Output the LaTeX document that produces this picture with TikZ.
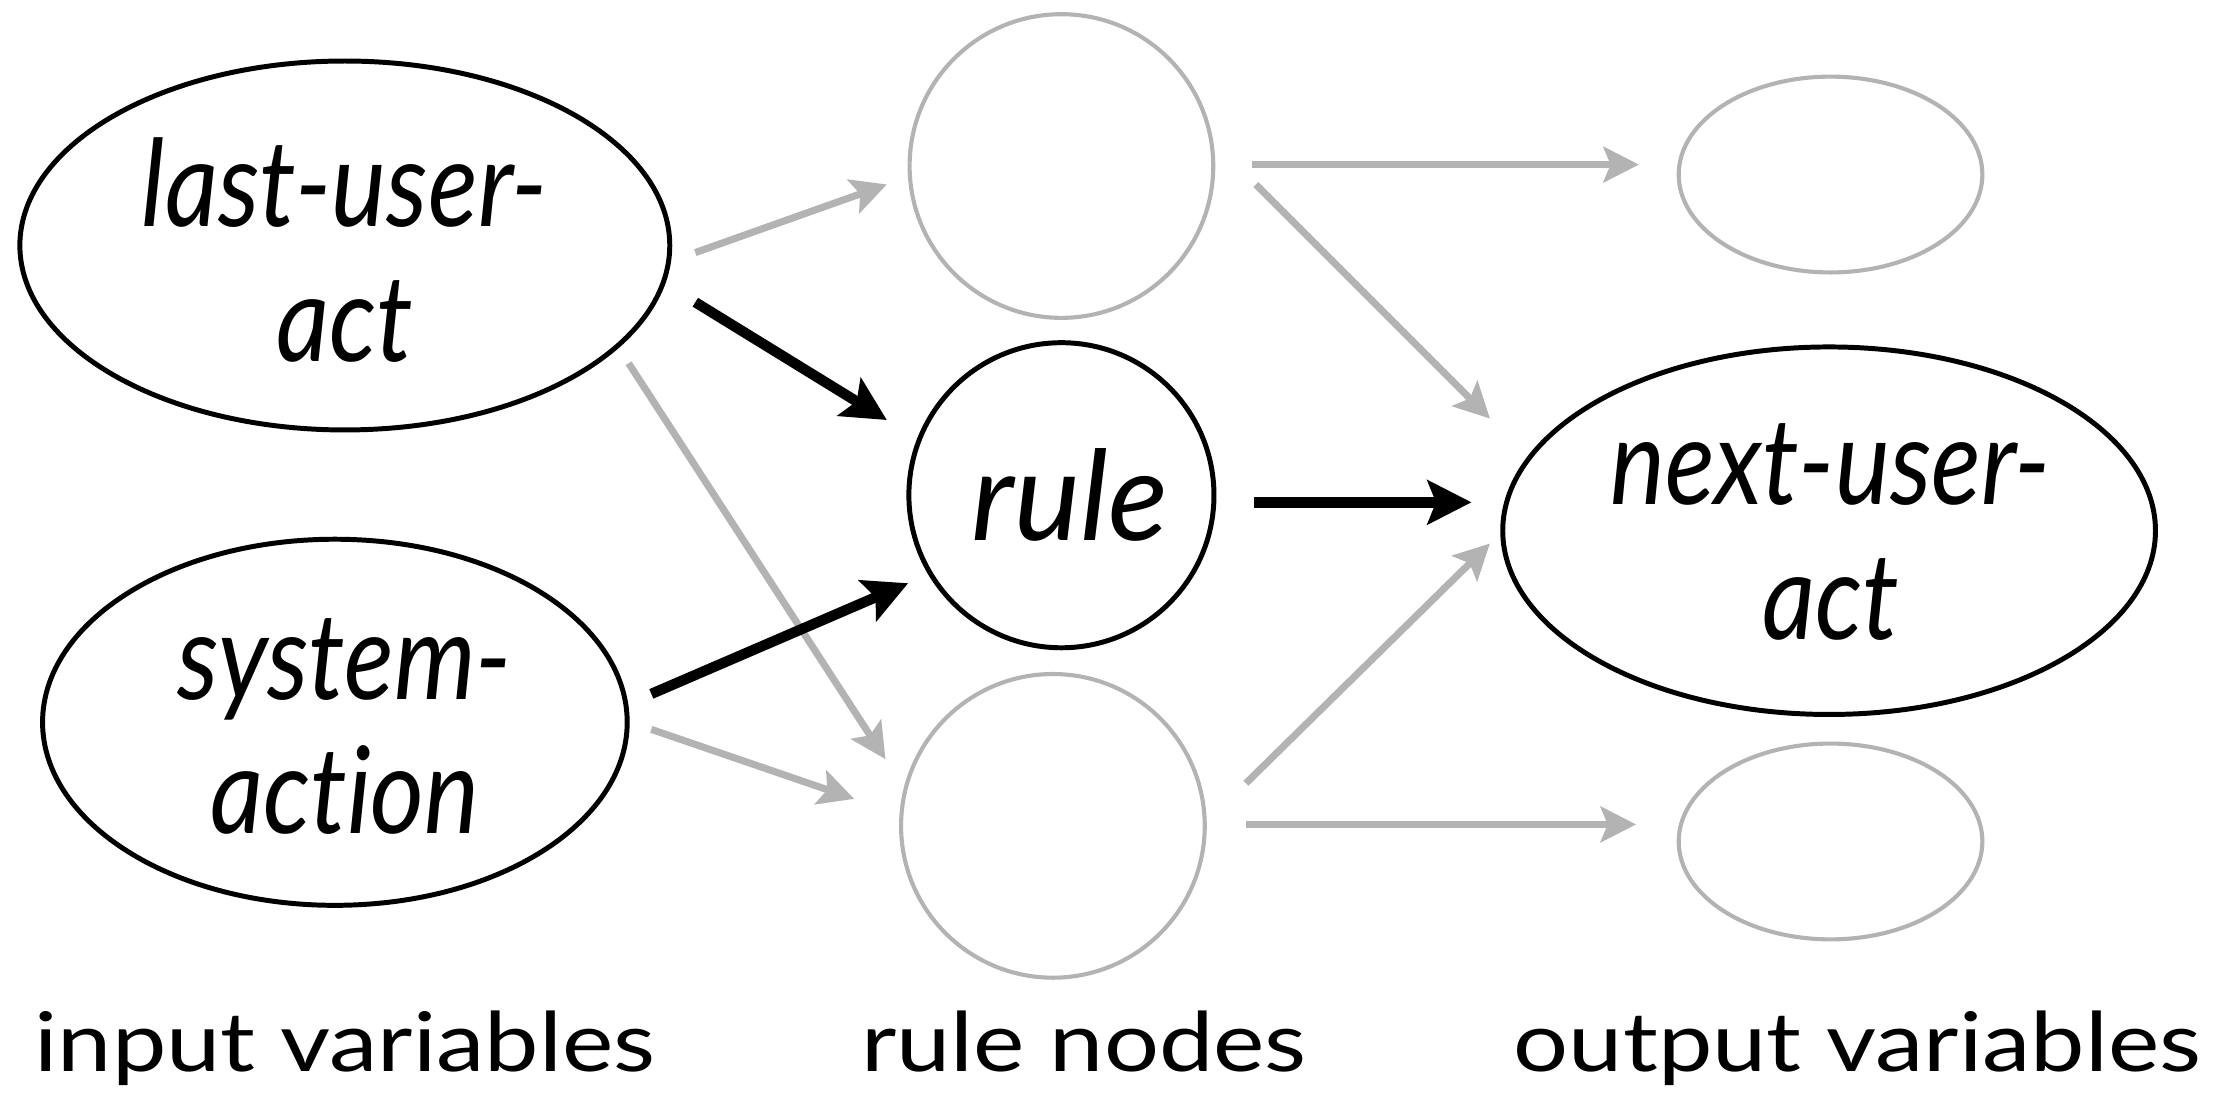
\documentclass[tikz,border=0pt]{standalone}
\usepackage{fontspec}
\setmainfont{Lato}
\newfontfamily\itf{Lato}[FakeStretch=0.86,Ligatures=NoCommon]
\newfontfamily\capf{Lato}[FakeStretch=1.18]
\usetikzlibrary{shapes.geometric,arrows.meta}
\definecolor{lgray}{HTML}{B3B3B3}
\begin{document}
\begin{tikzpicture}[x=1pt,y=-1pt,
  blk/.style={draw=black,line width=3.5pt,ellipse,inner sep=0pt},
  gry/.style={draw=lgray,line width=2.9pt,ellipse,inner sep=0pt},
  itl/.style={font=\fontsize{85}{95}\selectfont\itf\itshape,align=center,inner sep=0pt},
  bigitl/.style={font=\fontsize{88}{95}\selectfont\itshape,align=center,inner sep=0pt},
  captext/.style={font=\fontsize{58}{64}\selectfont\capf,inner sep=0pt,anchor=base},
  barrow/.style={draw=black,line width=7.3pt,-{Stealth[length=31pt,width=31pt,inset=6pt]}},
  garrow/.style={draw=lgray,line width=5pt,-{Stealth[length=25pt,width=25pt,inset=5pt]}}]
\useasboundingbox (0,0) rectangle (1568,770);
% input variables
\node[blk,minimum width=458pt,minimum height=260pt] (lua) at (243,173) {};
\node[itl] (luat) at (243,176) {last-user-\\act};
\node[blk,minimum width=412pt,minimum height=258pt] (sa) at (236,509) {};
\node[itl] (sat) at (243,512) {system-\\action};
% rule nodes
\node[gry,minimum width=214pt,minimum height=214pt] (r1) at (748,117) {};
\node[blk,minimum width=215pt,minimum height=215pt] (r2) at (748,349) {};
\node[bigitl] (r2t) at (754,349) {rule};
\node[gry,minimum width=214pt,minimum height=214pt] (r3) at (742,582) {};
% output variables
\node[gry,minimum width=214pt,minimum height=138pt] (o1) at (1290,123) {};
\node[blk,minimum width=460pt,minimum height=259pt] (nua) at (1289,374) {};
\node[itl] (nuat) at (1290,375) {next-user-\\act};
\node[gry,minimum width=214pt,minimum height=138pt] (o3) at (1290,593) {};
% captions
\node[captext] (c1) at (243,755) {input variables};
\node[captext] (c2) at (764,755) {rule nodes};
\node[captext] (c3) at (1309,755) {output variables};
% connector end points
\coordinate (g1s) at (490,178); \coordinate (g1e) at (625,130);
\coordinate (b1s) at (490,213); \coordinate (b1e) at (625,296);
\coordinate (g2s) at (443,256); \coordinate (g2e) at (624,535);
\coordinate (b2s) at (459,489); \coordinate (b2e) at (640,411);
\coordinate (g3s) at (459,514); \coordinate (g3e) at (602,563);
\coordinate (g4s) at (882,116); \coordinate (g4e) at (1155,116);
\coordinate (g5s) at (885,130); \coordinate (g5e) at (1050,295);
\coordinate (b3s) at (884,354); \coordinate (b3e) at (1037,354);
\coordinate (g6s) at (878,552); \coordinate (g6e) at (1050,383);
\coordinate (g7s) at (878,581); \coordinate (g7e) at (1153,581);
% connectors
\draw[garrow] (g1s) -- (g1e);
\draw[garrow] (g2s) -- (g2e);
\draw[garrow] (g3s) -- (g3e);
\draw[garrow] (g4s) -- (g4e);
\draw[garrow] (g5s) -- (g5e);
\draw[garrow] (g6s) -- (g6e);
\draw[garrow] (g7s) -- (g7e);
\draw[barrow] (b1s) -- (b1e);
\draw[barrow] (b2s) -- (b2e);
\draw[barrow] (b3s) -- (b3e);
\end{tikzpicture}
\end{document}
